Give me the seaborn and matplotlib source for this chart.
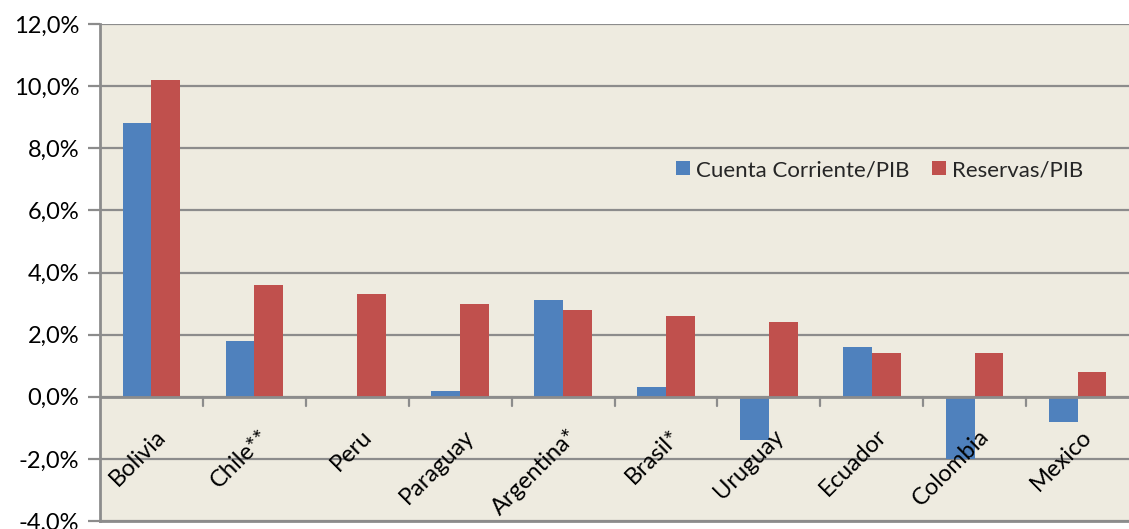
import matplotlib
matplotlib.use("Agg")
import matplotlib.pyplot as plt
import seaborn as sns
import pandas as pd
from matplotlib.ticker import FuncFormatter

# datos (% del PIB)
paises = ['Bolivia', 'Chile**', 'Peru', 'Paraguay', 'Argentina*',
          'Brasil*', 'Uruguay', 'Ecuador', 'Colombia', 'Mexico']
cuenta_corriente = [8.8, 1.8, 0.0, 0.2, 3.1, 0.3, -1.4, 1.6, -2.0, -0.8]
reservas = [10.2, 3.6, 3.3, 3.0, 2.8, 2.6, 2.4, 1.4, 1.4, 0.8]
series = ['Cuenta Corriente/PIB', 'Reservas/PIB']
colores = ['#4F81BD', '#C0504D']

fondo = '#EEEBE0'
gris = '#8C8C8C'

sns.set_theme(style="whitegrid")
plt.rcParams['font.family'] = ['Lato', 'DejaVu Sans']

# armar tabla larga para seaborn
df = pd.DataFrame({
    'pais': paises * 2,
    'serie': [series[0]] * len(paises) + [series[1]] * len(paises),
    'valor': cuenta_corriente + reservas,
})

fig = plt.figure(figsize=(11.29, 5.29), dpi=100)
ax = fig.add_axes([100 / 1129, 8 / 529, 1029 / 1129, 497 / 529])
ax.set_facecolor(fondo)

sns.barplot(data=df, x='pais', y='valor', hue='serie', palette=colores,
            width=0.56, ax=ax, saturation=1, edgecolor='none', legend=True)

ax.set_xlim(-0.5, len(paises) - 0.5)
ax.set_ylim(-4, 12)
ax.set_yticks(range(-4, 13, 2))
ax.yaxis.set_major_formatter(FuncFormatter(lambda v, p: f"{v:.1f}%".replace('.', ',')))
ax.grid(axis='y', color=gris, linewidth=1.6)
ax.grid(axis='x', visible=False)
ax.set_axisbelow(True)
ax.set_xlabel('')
ax.set_ylabel('')

for s in ['top', 'right']:
    ax.spines[s].set_visible(False)
ax.spines['left'].set_color(gris)
ax.spines['left'].set_linewidth(2)
ax.spines['bottom'].set_color(gris)
ax.spines['bottom'].set_linewidth(2)
ax.axhline(0, color=gris, linewidth=2, zorder=3)

ax.tick_params(axis='y', length=9, width=1.6, color=gris, labelsize=17, pad=6,
               left=True, labelcolor='black')

# etiquetas de paises pegadas al eje cero
ax.set_xticks(range(len(paises)))
ax.set_xticklabels([])
ax.tick_params(axis='x', length=0)
for i, p in enumerate(paises):
    ax.annotate(p, xy=(i, 0), xytext=(8, -26), textcoords='offset points',
                rotation=45, ha='right', va='center', rotation_mode='anchor',
                fontsize=17, color='black')
# marcas entre categorias
for b in range(1, len(paises)):
    ax.plot([b - 0.5, b - 0.5], [0, -0.3], color=gris, linewidth=1.6,
            clip_on=False, zorder=3)

leg = ax.legend(loc='center', bbox_to_anchor=(0.758, 0.706), ncol=2, frameon=False,
                fontsize=16, handlelength=0.6, handleheight=0.6, columnspacing=1.0,
                handletextpad=0.3)

fig.savefig('out.png', dpi=100, facecolor='white')
